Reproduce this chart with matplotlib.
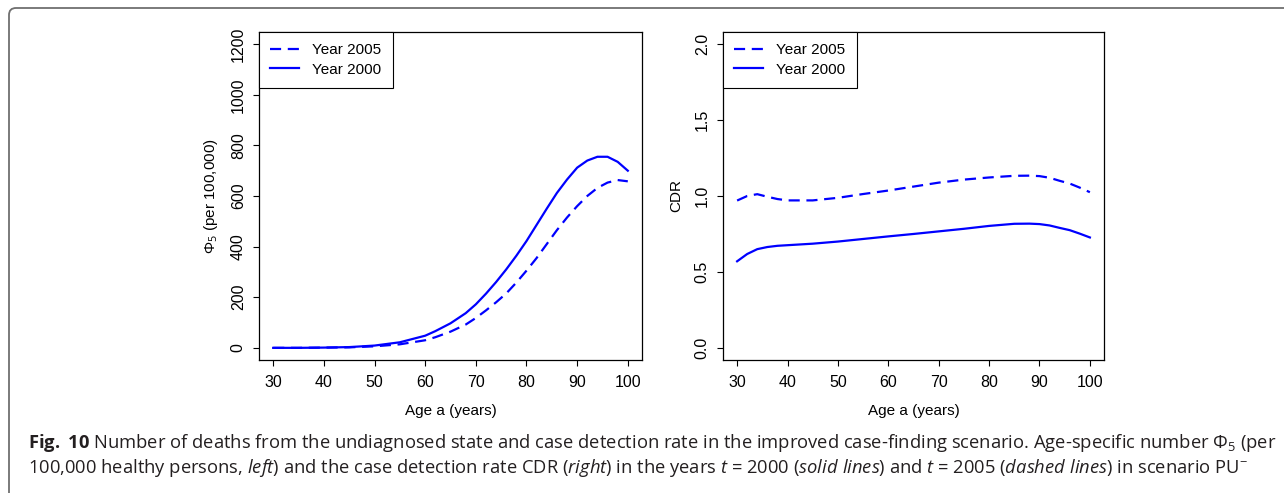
# Fig. 10: Phi5 and CDR by age, years 2000 and 2005 (scenario PU-)
import matplotlib
matplotlib.use("Agg")
import matplotlib.pyplot as plt
from matplotlib.patches import FancyBboxPatch

plt.rcParams['font.family'] = ['Liberation Sans', 'DejaVu Sans']
plt.rcParams['mathtext.fontset'] = 'custom'
plt.rcParams['mathtext.rm'] = 'Open Sans'
plt.rcParams['mathtext.it'] = 'Open Sans:italic'
plt.rcParams['mathtext.bf'] = 'Open Sans:bold'

# данные: левая панель (Phi5 на 100 000)
age_phi = [30, 35, 40, 45, 50, 55, 60, 62, 65, 68, 70, 72, 74, 76, 78, 80,
           82, 84, 86, 88, 90, 92, 94, 96, 98, 100]
phi_2005 = [0, 0, 1, 2, 6, 14, 30, 42, 64, 92, 118, 148, 180, 215, 258, 305,
            355, 410, 465, 515, 560, 600, 632, 653, 663, 658]
phi_2000 = [0, 0, 1, 3, 9, 22, 48, 66, 97, 137, 172, 214, 260, 310, 364, 422,
            486, 550, 612, 665, 712, 740, 755, 755, 735, 700]

# правая панель (CDR)
age_cdr = [30, 32, 34, 36, 38, 40, 45, 50, 55, 60, 65, 70, 75, 80, 85, 88,
           90, 92, 94, 96, 98, 100]
cdr_2005 = [0.970, 1.000, 1.012, 0.995, 0.980, 0.971, 0.971, 0.988, 1.013,
            1.036, 1.062, 1.088, 1.108, 1.122, 1.133, 1.134, 1.131, 1.120,
            1.100, 1.082, 1.055, 1.025]
cdr_2000 = [0.570, 0.618, 0.650, 0.664, 0.672, 0.676, 0.686, 0.700, 0.717,
            0.734, 0.750, 0.767, 0.784, 0.803, 0.817, 0.818, 0.815, 0.806,
            0.790, 0.775, 0.752, 0.727]

x_ticks = [30, 40, 50, 60, 70, 80, 90, 100]
phi_ticks = [0, 200, 400, 600, 800, 1000, 1200]
cdr_ticks = [0.0, 0.5, 1.0, 1.5, 2.0]
cdr_labels = ["0.0", "0.5", "1.0", "1.5", "2.0"]

W, H = 1284, 493
fig = plt.figure(figsize=(W / 100, H / 100), dpi=100)

# рамка (видны только верх и левый край)
frame = FancyBboxPatch((0.09, -1.0), 20, 4.85 + 1.0, boxstyle="round,pad=0,rounding_size=0.07",
                       transform=fig.dpi_scale_trans, facecolor="none", edgecolor="#6f6f6f",
                       linewidth=1.3, clip_on=False)
fig.patches.append(frame)

ax1 = fig.add_axes([259 / W, (H - 360) / H, (642 - 259) / W, (360 - 32) / H])
ax2 = fig.add_axes([723 / W, (H - 360) / H, (1104 - 723) / W, (360 - 32) / H])

blue = "#0000ff"
for ax, x, y5, y0 in [(ax1, age_phi, phi_2005, phi_2000), (ax2, age_cdr, cdr_2005, cdr_2000)]:
    ax.plot(x, y5, color=blue, linewidth=1.6, linestyle=(0, (5, 3)), label="Year 2005")
    ax.plot(x, y0, color=blue, linewidth=1.6, label="Year 2000")
    ax.set_xlim(27.2, 102.8)
    ax.set_xticks(x_ticks)
    ax.tick_params(direction="out", length=4.5, width=0.8, labelsize=11.5, pad=6.5)
    ax.tick_params(axis="y", labelrotation=90, pad=5)
    for s in ax.spines.values():
        s.set_linewidth(0.9)
    ax.set_xlabel("Age a (years)", fontsize=11, labelpad=10)
    leg = ax.legend(loc="upper left", borderaxespad=0, fontsize=11, fancybox=False,
                    framealpha=1, edgecolor="black", handlelength=1.9, handletextpad=0.85,
                    labelspacing=0.33, borderpad=0.75)
    leg.get_frame().set_linewidth(0.8)

ax1.set_ylim(-48, 1248)
ax1.set_yticks(phi_ticks)
ax1.set_ylabel(r"$\Phi_5$ (per 100,000)", fontsize=11, labelpad=8)
ax2.set_ylim(-0.08, 2.08)
ax2.set_yticks(cdr_ticks)
ax2.set_yticklabels(cdr_labels)
ax2.set_ylabel("CDR", fontsize=11, labelpad=8)
for ax in (ax1, ax2):
    for lab in ax.get_yticklabels():
        lab.set_va("center")

# подпись
cap1 = (r"$\mathbf{Fig.\ 10}$ Number of deaths from the undiagnosed state and case detection rate "
        r"in the improved case-finding scenario. Age-specific number $\Phi_5$ (per")
cap2 = (r"100,000 healthy persons, $\mathit{left}$) and the case detection rate CDR "
        r"($\mathit{right}$) in the years $t$ = 2000 ($\mathit{solid\ lines}$) and "
        r"$t$ = 2005 ($\mathit{dashed\ lines}$) in scenario PU$^{-}$")
fig.text(28 / W, 1 - 448 / H, cap1, fontsize=13.2, family="Open Sans", color="#231f20", va="baseline")
fig.text(28 / W, 1 - 473 / H, cap2, fontsize=13.2, family="Open Sans", color="#231f20", va="baseline")

fig.savefig("out.png", dpi=100)
